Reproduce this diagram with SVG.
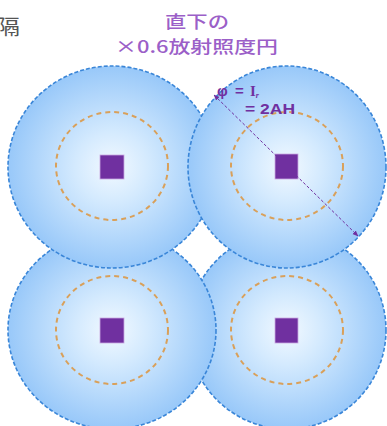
<svg xmlns="http://www.w3.org/2000/svg" width="387" height="426" viewBox="0 0 387 426">
<defs>
<radialGradient id="g" cx="0.5" cy="0.5" r="0.5">
<stop offset="0" stop-color="#f2f9ff"/>
<stop offset="0.35" stop-color="#d4eafe"/>
<stop offset="1" stop-color="#98c8f9"/>
</radialGradient>
<marker id="ah" viewBox="0 0 10 10" refX="9" refY="5" markerWidth="6" markerHeight="6" orient="auto-start-reverse">
<path d="M0,1 L10,5 L0,9 z" fill="#7030a0"/>
</marker>
<style>
.outer{fill:url(#g);stroke:#3a86d8;stroke-width:1.6;stroke-dasharray:4 2}
.inner{fill:none;stroke:#d9a05a;stroke-width:2;stroke-dasharray:5 4}
.lamp{fill:#7030a0;stroke:#c8a8e0;stroke-width:0.8}
.lbl{font-family:"Liberation Sans","Noto Sans CJK JP",sans-serif;fill:#7030a0;font-weight:bold;font-size:15px}
.ttl{font-family:"Noto Sans CJK JP",sans-serif;fill:#9b5fc8;font-size:17px;font-weight:500}
</style>
</defs>
<text x="-4" y="34" font-family="Noto Sans CJK JP, sans-serif" font-size="21" fill="#555" textLength="24" lengthAdjust="spacingAndGlyphs">隔</text>
<text class="ttl" x="165" y="28" textLength="64" lengthAdjust="spacingAndGlyphs">直下の</text>
<text class="ttl" x="115" y="53" textLength="163" lengthAdjust="spacingAndGlyphs">×0.6放射照度円</text>
<g id="lamp-br">
<ellipse class="outer" cx="287" cy="330" rx="99" ry="99"/>
<ellipse class="inner" cx="287" cy="330" rx="56" ry="54"/>
<rect class="lamp" x="275" y="318" width="23" height="25"/>
</g>
<g id="lamp-bl">
<ellipse class="outer" cx="112" cy="330" rx="104" ry="99"/>
<ellipse class="inner" cx="112" cy="330" rx="56" ry="54"/>
<rect class="lamp" x="100" y="318" width="24" height="25"/>
</g>
<g id="lamp-tl">
<ellipse class="outer" cx="112" cy="167" rx="104" ry="101"/>
<ellipse class="inner" cx="112" cy="166" rx="56" ry="54"/>
<rect class="lamp" x="100" y="155" width="24" height="24"/>
</g>
<g id="lamp-tr">
<ellipse class="outer" cx="287" cy="167" rx="99" ry="101"/>
<ellipse class="inner" cx="287" cy="166" rx="56" ry="54"/>
<rect class="lamp" x="275" y="154" width="23" height="25"/>
</g>
<g id="connectors">
<line x1="214" y1="95" x2="358" y2="236" stroke="#7030a0" stroke-width="1" stroke-dasharray="3 2" marker-start="url(#ah)" marker-end="url(#ah)"/>
</g>
<g id="label">
<text class="lbl" x="217" y="96">φ</text>
<text class="lbl" x="235" y="96">=</text>
<text x="250" y="96" font-family="Liberation Serif, serif" font-weight="bold" font-size="15" fill="#7030a0">I<tspan font-size="8" dy="2" font-style="italic">r</tspan></text>
<text class="lbl" x="245" y="114" textLength="50" lengthAdjust="spacingAndGlyphs">= 2AH</text>
</g>
</svg>
